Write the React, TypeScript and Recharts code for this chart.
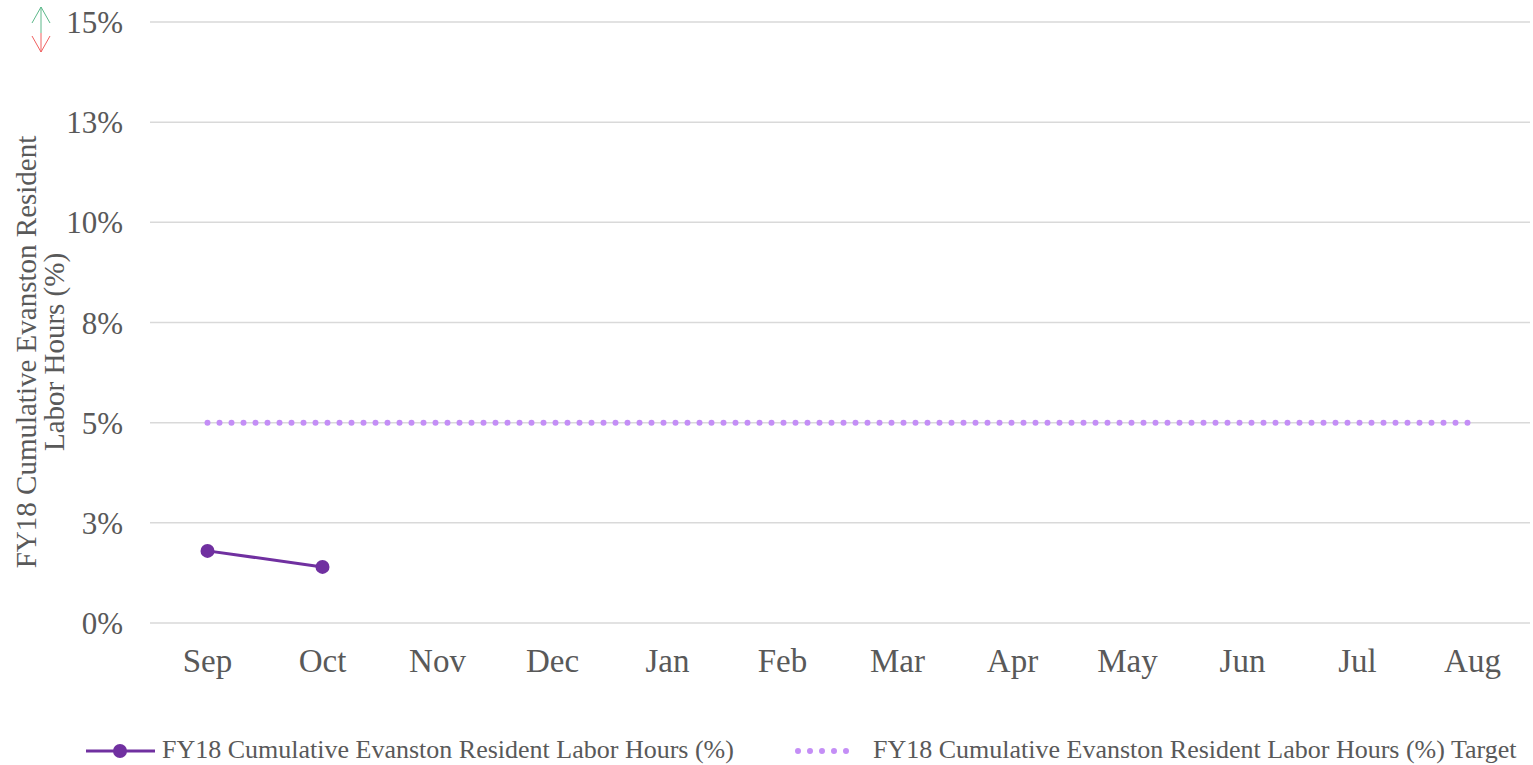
import React from 'react';
import { LineChart, Line, XAxis, YAxis, CartesianGrid, Legend } from 'recharts';

const months = ['Sep', 'Oct', 'Nov', 'Dec', 'Jan', 'Feb', 'Mar', 'Apr', 'May', 'Jun', 'Jul', 'Aug'];
const actualValues: (number | null)[] = [1.8, 1.4, null, null, null, null, null, null, null, null, null, null];
const targetValues: number[] = [5, 5, 5, 5, 5, 5, 5, 5, 5, 5, 5, 5];
const yTicks = [0, 2.5, 5, 7.5, 10, 12.5, 15];

const seriesName = 'FY18 Cumulative Evanston Resident Labor Hours (%)';
const targetName = 'FY18 Cumulative Evanston Resident Labor Hours (%) Target';

const data = months.map((m, i) => ({ month: m, actual: actualValues[i], target: targetValues[i] }));

const FONT = '"Liberation Serif", "Times New Roman", serif';
const TEXT = '#595959';
const PURPLE = '#7030a0';
const LILAC = '#c48ef6';

const renderLegend = () => (
  <svg width={1533} height={35} style={{ display: 'block' }}>
    <line x1={86} y1={21} x2={155} y2={21} stroke={PURPLE} strokeWidth={3} />
    <circle cx={120} cy={21} r={7} fill={PURPLE} />
    <text x={162} y={28} fontFamily={FONT} fontSize={26} fill={TEXT}>{seriesName}</text>
    <line x1={798} y1={21} x2={858} y2={21} stroke={LILAC} strokeWidth={6} strokeDasharray="0 12" strokeLinecap="round" />
    <text x={873} y={28} fontFamily={FONT} fontSize={26} fill={TEXT}>{targetName}</text>
  </svg>
);

const renderYTitle = () => (
  <g>
    <text x={36} y={352} transform="rotate(-90, 36, 352)" textAnchor="middle" fontFamily={FONT} fontSize={29} fill={TEXT}>
      FY18 Cumulative Evanston Resident
    </text>
    <text x={64} y={352} transform="rotate(-90, 64, 352)" textAnchor="middle" fontFamily={FONT} fontSize={29} fill={TEXT}>
      Labor Hours (%)
    </text>
  </g>
);

export default function App() {
  return (
    <div style={{ position: 'absolute', left: 0, top: 0, width: 1533, height: 765, background: '#fff' }}>
      <svg width={20} height={50} style={{ position: 'absolute', left: 31, top: 5 }}>
        <line x1={10} y1={2} x2={10} y2={28} stroke="#5cb88a" strokeWidth={1} />
        <polyline points="1,18 10,2 19,18" fill="none" stroke="#5cb88a" strokeWidth={1} />
        <line x1={10} y1={28} x2={10} y2={47} stroke="#f06060" strokeWidth={1} />
        <polyline points="1,31 10,47 19,31" fill="none" stroke="#f06060" strokeWidth={1} />
      </svg>
      <LineChart width={1533} height={765} data={data} margin={{ top: 22, right: 3, bottom: 77, left: 0 }}>
        <CartesianGrid vertical={false} stroke="#d9d9d9" strokeWidth={1.5} />
        <XAxis
          dataKey="month"
          scale="band"
          height={30}
          axisLine={false}
          tickLine={false}
          tickSize={0}
          tickMargin={26}
          interval={0}
          tick={{ fontFamily: FONT, fontSize: 33, fill: TEXT }}
        />
        <YAxis
          width={150}
          domain={[0, 15]}
          ticks={yTicks}
          interval={0}
          axisLine={false}
          tickLine={false}
          tickSize={0}
          tickMargin={27}
          tickFormatter={(v: number) => `${Math.round(v)}%`}
          tick={{ fontFamily: FONT, fontSize: 31, fill: TEXT }}
          label={{ content: renderYTitle }}
        />
        <Legend
          verticalAlign="bottom"
          height={35}
          content={renderLegend}
          wrapperStyle={{ left: 0, bottom: 0, width: 1533, height: 35 }}
        />
        <Line
          name={targetName}
          dataKey="target"
          stroke={LILAC}
          strokeWidth={6}
          strokeDasharray="0 12"
          strokeLinecap="round"
          dot={false}
          activeDot={false}
          isAnimationActive={false}
        />
        <Line
          name={seriesName}
          dataKey="actual"
          stroke={PURPLE}
          strokeWidth={3}
          dot={{ r: 7, fill: PURPLE, stroke: PURPLE, strokeWidth: 0 }}
          activeDot={false}
          connectNulls={false}
          isAnimationActive={false}
        />
      </LineChart>
    </div>
  );
}
